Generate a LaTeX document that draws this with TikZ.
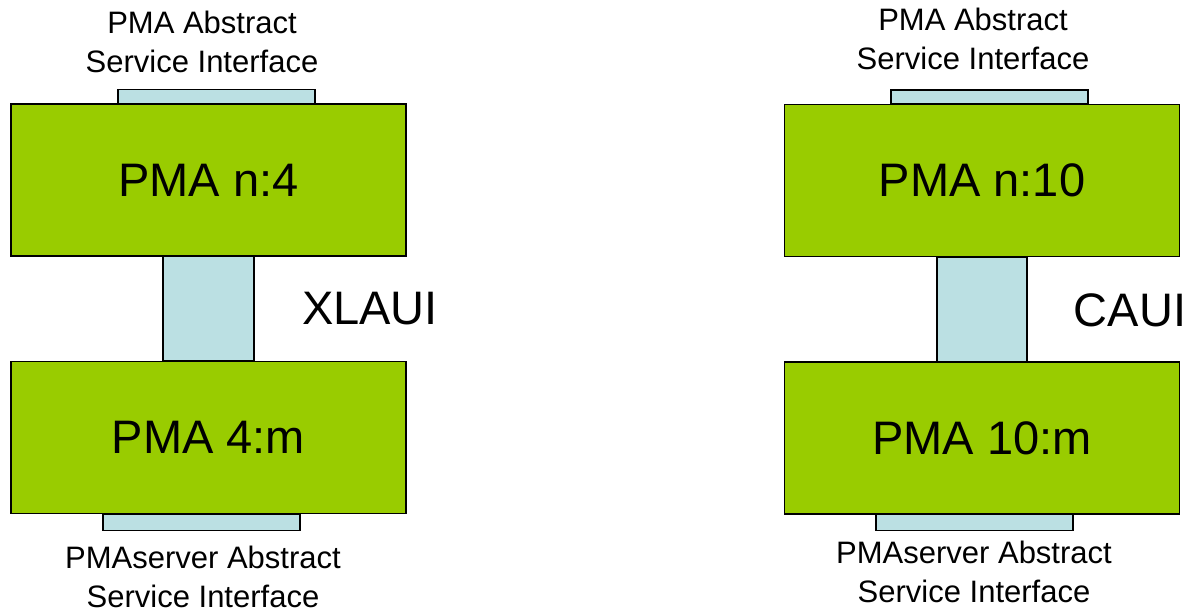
\documentclass[tikz,border=0pt]{standalone}
\usepackage{fontspec}
\setmainfont{Liberation Sans}
\usetikzlibrary{positioning,backgrounds}
\definecolor{pmagreen}{RGB}{153,204,0}
\definecolor{ifblue}{RGB}{187,224,227}
\newcommand{\boxfont}{\fontsize{47}{56}\selectfont}
\newcommand{\labfont}{\fontsize{31}{39}\selectfont}

\begin{document}
\begin{tikzpicture}[x=1pt, y=-1pt, node distance=257.5pt, on grid,
    pma/.style={draw, line width=1.2pt, fill=pmagreen, minimum width=395pt, minimum height=152pt, inner sep=0pt, font=\boxfont},
    iface/.style={draw, line width=1.2pt, fill=ifblue},
    asi/.style={align=center, font=\labfont, inner sep=0pt},
    bus/.style={font=\boxfont, inner sep=0pt}]
    \useasboundingbox (0,0) rectangle (1188,613);
    % left stack, XLAUI
    \node[pma] (up1) at (208.5,180) {PMA n:4};
    \node[pma] (lo1) [below=of up1] {PMA 4:m};
    \node[bus] (xlaui) at (370,309) {XLAUI};
    \node[asi] (asi1) [above=138pt of up1, xshift=-6.5pt] {PMA Abstract\\Service Interface};
    \node[asi] (srv1) [below=139.5pt of lo1, xshift=-5.5pt] {PMAserver Abstract\\Service Interface};
    % right stack, CAUI
    \node[pma] (up2) at (982,180.5) {PMA n:10};
    \node[pma] (lo2) [below=of up2] {PMA 10:m};
    \node[bus] (caui) at (1130,310) {CAUI};
    \node[asi] (asi2) [above=142pt of up2, xshift=-9pt] {PMA Abstract\\Service Interface};
    \node[asi] (srv2) [below=134pt of lo2, xshift=-8pt] {PMAserver Abstract\\Service Interface};
    \begin{scope}[on background layer]
        \draw[iface] ([xshift=-90.5pt]up1.north) rectangle ([xshift=106.5pt,yshift=14pt]up1.north);
        \draw[iface] ([xshift=-105.5pt]lo1.south) rectangle ([xshift=91.5pt,yshift=-16pt]lo1.south);
        \draw[iface] ([xshift=-45.5pt]up1.south) rectangle ([xshift=45.5pt]lo1.north);
        \draw[iface] ([xshift=-91pt]up2.north) rectangle ([xshift=106pt,yshift=14pt]up2.north);
        \draw[iface] ([xshift=-106pt]lo2.south) rectangle ([xshift=91pt,yshift=-16pt]lo2.south);
        \draw[iface] ([xshift=-45pt]up2.south) rectangle ([xshift=45pt]lo2.north);
    \end{scope}
\end{tikzpicture}
\end{document}
